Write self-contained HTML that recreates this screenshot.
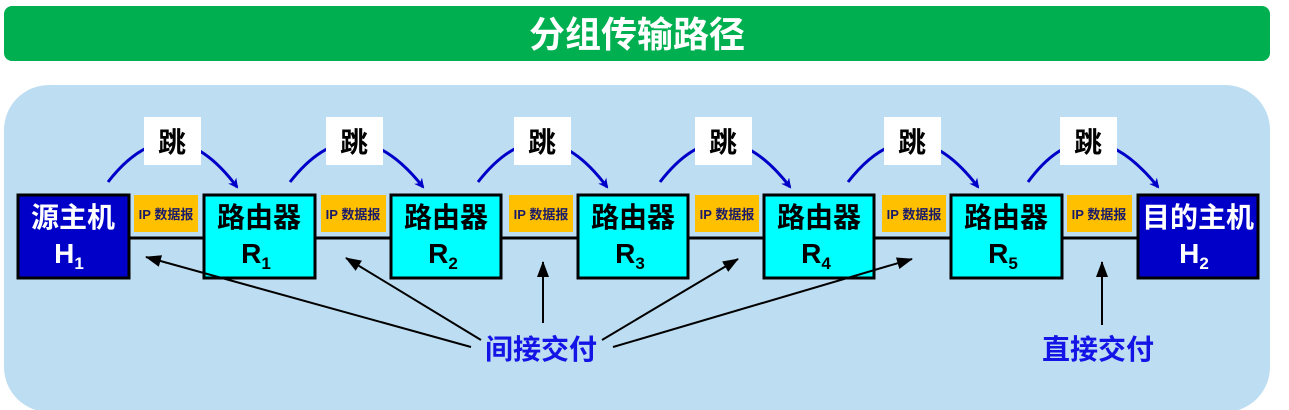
<!DOCTYPE html>
<html><head><meta charset="utf-8"><style>
html,body{margin:0;padding:0;width:1289px;height:410px;overflow:hidden;background:#fff}
svg{display:block}
text{font-family:"Liberation Sans","Noto Sans CJK SC",sans-serif;font-weight:bold}
</style></head><body>
<svg width="1289" height="410" xmlns="http://www.w3.org/2000/svg">
<defs>
<marker id="bh" markerWidth="10" markerHeight="10" refX="8" refY="5" orient="auto" markerUnits="userSpaceOnUse"><path d="M0,0 L10,5 L0,10 L3,5 z" fill="#0000c8"/></marker>
<marker id="kh" markerWidth="16" markerHeight="12" refX="15" refY="6" orient="auto" markerUnits="userSpaceOnUse"><path d="M0,0 L16,6 L0,12 z" fill="#000"/></marker>
</defs>
<rect x="4" y="6" width="1266" height="55" rx="8" fill="#00b050"/>
<text x="637" y="47" font-size="36" fill="#fff" text-anchor="middle">分组传输路径</text>
<rect x="4" y="85" width="1266" height="327" rx="45" fill="#bddef2"/>
<line x1="129" y1="238" x2="1138" y2="238" stroke="#000" stroke-width="3"/>
<g stroke="#0000c8" stroke-width="3" fill="none">
<path d="M108,182 Q172,100 237,187" marker-end="url(#bh)"/>
<path d="M290,182 Q354,100 423,187" marker-end="url(#bh)"/>
<path d="M478,182 Q542,100 607,187" marker-end="url(#bh)"/>
<path d="M660,182 Q723,100 790,187" marker-end="url(#bh)"/>
<path d="M848,182 Q912,100 978,187" marker-end="url(#bh)"/>
<path d="M1028,182 Q1088,100 1158,187" marker-end="url(#bh)"/>
</g>
<g fill="#fff">
<rect x="144" y="117" width="57" height="48"/><rect x="326" y="117" width="57" height="48"/>
<rect x="514" y="117" width="57" height="48"/><rect x="695" y="117" width="57" height="48"/>
<rect x="884" y="117" width="57" height="48"/><rect x="1060" y="117" width="57" height="48"/>
</g>
<g font-size="28" fill="#000" text-anchor="middle">
<text x="172" y="152">跳</text><text x="354" y="152">跳</text><text x="542" y="152">跳</text>
<text x="723" y="152">跳</text><text x="912" y="152">跳</text><text x="1088" y="152">跳</text>
</g>
<g fill="#ffc000">
<rect x="134" y="195" width="64" height="37"/><rect x="321" y="195" width="65" height="37"/>
<rect x="509" y="195" width="64" height="37"/><rect x="695" y="195" width="64" height="37"/>
<rect x="882" y="195" width="64" height="37"/><rect x="1067" y="195" width="65" height="37"/>
</g>
<g font-size="13" fill="#1a1a6a" text-anchor="middle">
<text x="166" y="219">IP 数据报</text><text x="353" y="219">IP 数据报</text><text x="541" y="219">IP 数据报</text>
<text x="727" y="219">IP 数据报</text><text x="914" y="219">IP 数据报</text><text x="1099" y="219">IP 数据报</text>
</g>
<g stroke="#000" stroke-width="3">
<rect x="18" y="195" width="111" height="83" fill="#0000c8"/>
<rect x="204" y="195" width="111" height="83" fill="#00ffff"/>
<rect x="391" y="195" width="110" height="83" fill="#00ffff"/>
<rect x="578" y="195" width="110" height="83" fill="#00ffff"/>
<rect x="764" y="195" width="110" height="83" fill="#00ffff"/>
<rect x="951" y="195" width="111" height="83" fill="#00ffff"/>
<rect x="1138" y="195" width="120" height="83" fill="#0000c8"/>
</g>
<g font-size="28" text-anchor="middle">
<text x="73" y="227" fill="#fff">源主机</text>
<text x="69" y="263" fill="#fff">H<tspan font-size="17" dy="6">1</tspan></text>
<text x="259" y="227">路由器</text><text x="256" y="263">R<tspan font-size="17" dy="6">1</tspan></text>
<text x="446" y="227">路由器</text><text x="443" y="263">R<tspan font-size="17" dy="6">2</tspan></text>
<text x="633" y="227">路由器</text><text x="630" y="263">R<tspan font-size="17" dy="6">3</tspan></text>
<text x="819" y="227">路由器</text><text x="816" y="263">R<tspan font-size="17" dy="6">4</tspan></text>
<text x="1006" y="227">路由器</text><text x="1003" y="263">R<tspan font-size="17" dy="6">5</tspan></text>
<text x="1198" y="227" fill="#fff">目的主机</text>
<text x="1194" y="263" fill="#fff">H<tspan font-size="17" dy="6">2</tspan></text>
</g>
<g stroke="#000" stroke-width="2">
<line x1="471" y1="347" x2="146" y2="257" marker-end="url(#kh)"/>
<line x1="481" y1="340" x2="346" y2="258" marker-end="url(#kh)"/>
<line x1="543" y1="323" x2="543" y2="262" marker-end="url(#kh)"/>
<line x1="602" y1="340" x2="738" y2="259" marker-end="url(#kh)"/>
<line x1="613" y1="347" x2="912" y2="259" marker-end="url(#kh)"/>
<line x1="1102" y1="325" x2="1102" y2="262" marker-end="url(#kh)"/>
</g>
<g font-size="28" fill="#1414e6" text-anchor="middle">
<text x="541" y="359">间接交付</text>
<text x="1098" y="359">直接交付</text>
</g>
</svg>
</body></html>
